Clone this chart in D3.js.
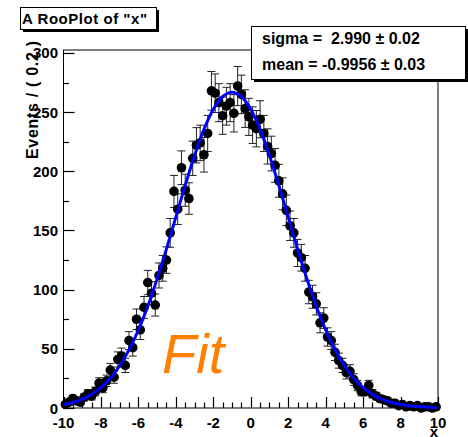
<!DOCTYPE html>
<html>
<head>
<meta charset="utf-8">
<script src="https://cdn.jsdelivr.net/npm/d3@7"></script>
<style>
  body { margin: 0; background: #fff; }
  svg { display: block; }
  text { font-family: "Liberation Sans", Arial, sans-serif; }
</style>
</head>
<body>
<svg id="plot" width="468" height="437"></svg>
<script>
// histogram of x, 100 bins of width 0.2 between -10 and 10
const binLow = -10;
const binWidth = 0.2;
const counts = [
  3, 5, 8, 6, 5, 9, 12, 10, 14, 21,
  17, 23, 32, 26, 41, 44, 36, 57, 51, 75,
  66, 85, 106, 97, 87, 112, 118, 125, 148, 183,
  168, 203, 184, 177, 211, 222, 224, 214, 232, 268,
  266, 258, 247, 255, 258, 249, 272, 265, 253, 246,
  239, 236, 244, 232, 221, 215, 205, 192, 181, 167,
  154, 148, 131, 127, 118, 98, 94, 88, 72, 76,
  60, 57, 47, 40, 36, 30, 31, 24, 19, 14,
  14, 19, 12, 10, 8, 7, 6, 4, 4, 2,
  3, 1, 2, 1, 2, 0, 1, 1, 0, 1
];

// fitted gaussian, every 0.5
const curveX = [
  -10, -9.5, -9, -8.5, -8, -7.5, -7, -6.5, -6, -5.5,
  -5, -4.5, -4, -3.5, -3, -2.5, -2, -1.5, -1, -0.5,
  0, 0.5, 1, 1.5, 2, 2.5, 3, 3.5, 4, 4.5,
  5, 5.5, 6, 6.5, 7, 7.5, 8, 8.5, 9, 9.5, 10
];
const curveY = [
  2.9, 4.7, 7.4, 11.5, 17.2, 25.1, 35.7, 49.2, 65.9, 86.0,
  109.1, 134.5, 161.3, 188.2, 213.4, 235.4, 252.4, 263.2, 266.9, 263.2,
  252.4, 235.4, 213.4, 188.2, 161.3, 134.5, 109.1, 86.0, 65.9, 49.2,
  35.7, 25.1, 17.2, 11.5, 7.4, 4.7, 2.9, 1.7, 1.1, 0.6, 0.35
];

const xTicks = [-10, -8, -6, -4, -2, 0, 2, 4, 6, 8, 10];
const yTicks = [0, 50, 100, 150, 200, 250, 300];
const statsLines = ["sigma =  2.990 \u00b1 0.02", "mean = -0.9956 \u00b1 0.03"];

const svg = d3.select("#plot");

const x = d3.scaleLinear().domain([-10, 10]).range([63.5, 438]);
const y = d3.scaleLinear().domain([0, 302.5]).range([408, 50]);

// frame
svg.append("rect")
  .attr("x", x(-10)).attr("y", y(302.5))
  .attr("width", x(10) - x(-10)).attr("height", y(0) - y(302.5))
  .attr("fill", "none").attr("stroke", "#000").attr("stroke-width", 1);

// y axis ticks (drawn inside the frame)
const yMinor = d3.range(0, 301, 25);
svg.append("g").selectAll("line")
  .data(yMinor)
  .join("line")
  .attr("x1", x(-10))
  .attr("x2", d => x(-10) + (d % 50 === 0 ? 11 : 5.5))
  .attr("y1", d => Math.round(y(d)) + 0.5)
  .attr("y2", d => Math.round(y(d)) + 0.5)
  .attr("stroke", "#000").attr("stroke-width", 1.2);

svg.append("g").selectAll("text")
  .data(yTicks)
  .join("text")
  .attr("x", 58)
  .attr("y", d => y(d) + 5.5)
  .attr("text-anchor", "end")
  .attr("font-size", "15px")
  .attr("font-weight", "bold")
  .text(d => d);

// x axis ticks
const xMinor = d3.range(-20, 21).map(d => d / 2);
svg.append("g").selectAll("line")
  .data(xMinor)
  .join("line")
  .attr("x1", d => Math.round(x(d)) + 0.5)
  .attr("x2", d => Math.round(x(d)) + 0.5)
  .attr("y1", y(0))
  .attr("y2", d => y(0) - (d % 2 === 0 ? 11 : 5.5))
  .attr("stroke", "#000").attr("stroke-width", 1.2);

svg.append("g").selectAll("text")
  .data(xTicks)
  .join("text")
  .attr("x", d => x(d))
  .attr("y", 428)
  .attr("text-anchor", "middle")
  .attr("font-size", "15px")
  .attr("font-weight", "bold")
  .text(d => d);

// axis titles
svg.append("text")
  .attr("x", 438).attr("y", 437)
  .attr("text-anchor", "end")
  .attr("font-size", "15px").attr("font-weight", "bold")
  .text("x");

svg.append("text")
  .attr("transform", "translate(38,159) rotate(-90)")
  .attr("font-size", "16px").attr("font-weight", "bold")
  .attr("textLength", 118).attr("lengthAdjust", "spacing")
  .text("Events / ( 0.2 )");

// data points with error bars
const points = counts.map((n, i) => ({
  x: +(binLow + binWidth * (i + 0.5)).toFixed(2),
  n: n,
  lo: Math.sqrt(n),
  hi: n === 0 ? 1.15 : Math.sqrt(n)
}));

const bars = svg.append("g").attr("stroke", "#222").attr("stroke-width", 1);
bars.selectAll("line.v")
  .data(points)
  .join("line")
  .attr("class", "v")
  .attr("x1", d => x(d.x)).attr("x2", d => x(d.x))
  .attr("y1", d => y(d.n - d.lo)).attr("y2", d => y(d.n + d.hi));
bars.selectAll("line.top")
  .data(points)
  .join("line")
  .attr("class", "top")
  .attr("x1", d => x(d.x) - 4).attr("x2", d => x(d.x) + 4)
  .attr("y1", d => y(d.n + d.hi)).attr("y2", d => y(d.n + d.hi));
bars.selectAll("line.bot")
  .data(points)
  .join("line")
  .attr("class", "bot")
  .attr("x1", d => x(d.x) - 4).attr("x2", d => x(d.x) + 4)
  .attr("y1", d => y(d.n - d.lo)).attr("y2", d => y(d.n - d.lo));

svg.append("g").selectAll("circle")
  .data(points)
  .join("circle")
  .attr("cx", d => x(d.x))
  .attr("cy", d => y(d.n))
  .attr("r", 4.8)
  .attr("fill", "#000");

// fit curve
const line = d3.line()
  .x((d, i) => x(curveX[i]))
  .y(d => y(d))
  .curve(d3.curveCatmullRom);

svg.append("path")
  .datum(curveY)
  .attr("d", line)
  .attr("fill", "none")
  .attr("stroke", "#0000ff")
  .attr("stroke-width", 3);

// "Fit" label
svg.append("text")
  .attr("x", 162).attr("y", 373)
  .attr("font-size", "56px")
  .attr("font-style", "italic")
  .attr("fill", "#ff7f00")
  .text("Fit");

// title box
svg.append("rect")
  .attr("x", 23).attr("y", 10).attr("width", 136).attr("height", 22)
  .attr("fill", "#000");
svg.append("rect")
  .attr("x", 20.5).attr("y", 7.5).attr("width", 136).attr("height", 22)
  .attr("fill", "#fff").attr("stroke", "#000").attr("stroke-width", 1);
svg.append("text")
  .attr("x", 22).attr("y", 24)
  .attr("font-size", "15px").attr("font-weight", "bold")
  .attr("textLength", 125).attr("lengthAdjust", "spacing")
  .text("A RooPlot of \"x\"");

// stats box
svg.append("rect")
  .attr("x", 254).attr("y", 29).attr("width", 214).attr("height", 53)
  .attr("fill", "#000");
svg.append("rect")
  .attr("x", 251.5).attr("y", 26.5).attr("width", 214).attr("height", 53)
  .attr("fill", "#fff").attr("stroke", "#000").attr("stroke-width", 1);
svg.append("g").selectAll("text")
  .data(statsLines)
  .join("text")
  .attr("x", 262)
  .attr("y", (d, i) => 44 + i * 26)
  .attr("font-size", "16px").attr("font-weight", "bold")
  .style("white-space", "pre")
  .text(d => d);
</script>
</body>
</html>
